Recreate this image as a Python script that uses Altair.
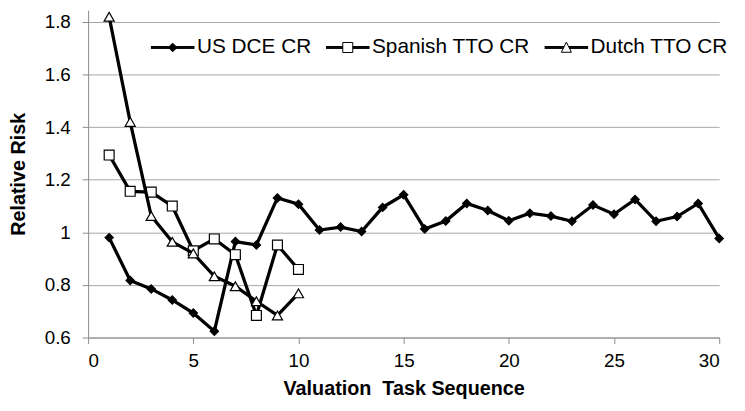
import altair as alt
import pandas as pd

# ---- data ----
series_names = ["US DCE CR", "Spanish TTO CR", "Dutch TTO CR"]

us_x = list(range(1, 31))
us_dce = [0.980, 0.817, 0.785, 0.743, 0.693, 0.624, 0.965, 0.952, 1.131, 1.107,
          1.009, 1.020, 1.003, 1.095, 1.143, 1.013, 1.043, 1.110, 1.083, 1.044,
          1.073, 1.062, 1.042, 1.104, 1.069, 1.125, 1.042, 1.060, 1.110, 0.977]

tto_x = list(range(1, 11))
spanish_tto = [1.294, 1.156, 1.153, 1.100, 0.930, 0.975, 0.915, 0.684, 0.952, 0.859]
dutch_tto = [1.820, 1.420, 1.062, 0.964, 0.920, 0.833, 0.795, 0.738, 0.684, 0.768]

x_ticks = [0, 5, 10, 15, 20, 25, 30]
y_ticks = [0.6, 0.8, 1.0, 1.2, 1.4, 1.6, 1.8]

rows = []
for xs, ys, name in [(us_x, us_dce, series_names[0]),
                     (tto_x, spanish_tto, series_names[1]),
                     (tto_x, dutch_tto, series_names[2])]:
    for a, b in zip(xs, ys):
        rows.append({"x": a, "y": b, "series": name})
df = pd.DataFrame(rows)

FONT = "Liberation Sans"

x_enc = alt.X("x:Q",
              scale=alt.Scale(domain=[0, 30], nice=False, zero=False),
              axis=alt.Axis(values=x_ticks, grid=False, tickSize=6,
                            domainColor="#8c8c8c", tickColor="#8c8c8c",
                            labelFont=FONT, labelFontSize=19, labelColor="black",
                            labelPadding=8,
                            title="Valuation\u00a0 Task Sequence",
                            titleFont=FONT, titleFontSize=20, titleFontWeight="bold",
                            titleColor="black", titleY=58, titleBaseline="alphabetic"))
y_enc = alt.Y("y:Q",
              scale=alt.Scale(domain=[0.6, 1.845], nice=False, zero=False),
              axis=alt.Axis(values=y_ticks, format="~g", grid=True,
                            gridColor="#a6a6a6", gridWidth=1, tickSize=6,
                            domainColor="#8c8c8c", tickColor="#8c8c8c",
                            labelFont=FONT, labelFontSize=19, labelColor="black",
                            labelPadding=12,
                            title="Relative Risk",
                            titleFont=FONT, titleFontSize=20, titleFontWeight="bold",
                            titleColor="black", titleX=-70, titleBaseline="middle"))

shapes = {"US DCE CR": ("diamond", "black", 70),
          "Spanish TTO CR": ("square", "white", 100),
          "Dutch TTO CR": ("triangle-up", "white", 105)}

layers = []
for name in series_names:
    shp, fillc, sz = shapes[name]
    sub = alt.Chart(df).transform_filter(alt.datum.series == name)
    layers.append(sub.mark_line(color="black", strokeWidth=3.3).encode(x=x_enc, y=y_enc))
    layers.append(sub.mark_point(shape=shp, filled=True, fill=fillc, stroke="black",
                                 strokeWidth=1.2, size=sz, opacity=1).encode(x=x_enc, y=y_enc))

# legend: custom symbols (line through marker), drawn from the series domain
p_us = ("M-1,-0.045H1M-1,0H1M-1,0.045H1"
        "M0,-0.2L0.2,0L0,0.2L-0.2,0Z")
p_es = ("M-1,-0.045H-0.23M-1,0H-0.23M-1,0.045H-0.23"
        "M0.23,-0.045H1M0.23,0H1M0.23,0.045H1"
        "M-0.23,-0.23H0.23V0.23H-0.23Z")
p_nl = ("M-1,-0.045H-0.10M-1,0H-0.122M-1,0.045H-0.144"
        "M0.10,-0.045H1M0.122,0H1M0.144,0.045H1"
        "M0,-0.25L0.23,0.22H-0.23Z")

leg = alt.Legend(orient="none", legendX=63, legendY=15, direction="horizontal",
                 columns=3, title=None, symbolSize=1936, symbolStrokeWidth=1,
                 labelFont=FONT, labelFontSize=21,
                 labelColor="black", labelOffset=2, columnPadding=12, padding=0,
                 labelLimit=500, symbolOpacity=1)

legend_layer = alt.Chart(df).transform_filter("false").mark_point(
    filled=True, strokeWidth=1, opacity=1
).encode(
    x=x_enc, y=y_enc,
    shape=alt.Shape("series:N", scale=alt.Scale(domain=series_names, range=[p_us, p_es, p_nl]),
                    legend=leg),
    fill=alt.Fill("series:N", scale=alt.Scale(domain=series_names, range=["black", "white", "white"]),
                  legend=leg),
    stroke=alt.Stroke("series:N", scale=alt.Scale(domain=series_names, range=["black", "black", "black"]),
                      legend=leg),
)
layers.append(legend_layer)

chart = alt.layer(*layers).properties(
    width=638, height=331,
    autosize=alt.AutoSizeParams(type="none"),
    padding={"left": 81, "top": 0, "right": 18, "bottom": 64},
    background="white",
).configure_view(strokeWidth=0)

chart.save("out.html", embed_options={"renderer": "svg", "actions": False})
